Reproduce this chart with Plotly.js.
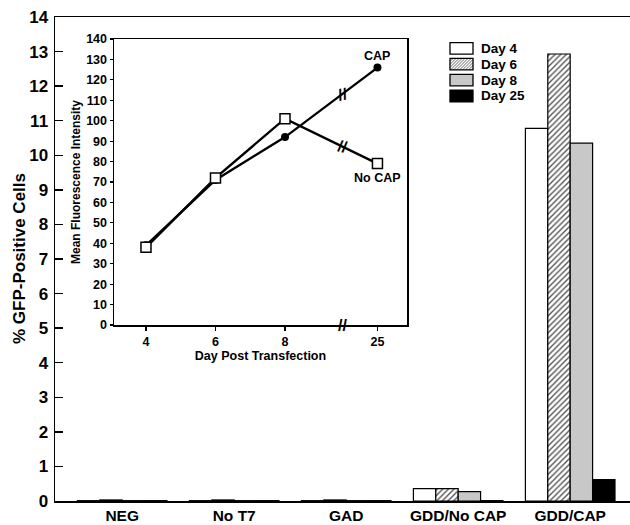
<!DOCTYPE html>
<html>
<head>
<meta charset="utf-8">
<script src="https://cdn.plot.ly/plotly-3.0.1.min.js"></script>
<style>html,body{margin:0;padding:0;background:#fff;}#chart{width:630px;height:525px;}</style>
</head>
<body>
<div id="chart"></div>
<script>
// ---- Main bar chart data (% GFP-positive cells) ----
const categories = ['NEG', 'No T7', 'GAD', 'GDD/No CAP', 'GDD/CAP'];
const day4Values  = [0.01, 0.01, 0.01, 0.36, 10.78];
const day6Values  = [0.03, 0.03, 0.03, 0.36, 12.93];
const day8Values  = [0.01, 0.01, 0.01, 0.27, 10.35];
const day25Values = [0.01, 0.01, 0.01, 0.01, 0.62];
const seriesNames = ['Day 4', 'Day 6', 'Day 8', 'Day 25'];
const mainYTicks = [0,1,2,3,4,5,6,7,8,9,10,11,12,13,14];

// ---- Inset line chart data (mean fluorescence intensity) ----
const insetDays = [4, 6, 8, 25];
const insetTickLabels = ['4', '6', '8', '25'];
const capValues   = [39, 71, 92, 126];
const noCapValues = [38, 72, 101, 79];
const insetYTicks = [0,10,20,30,40,50,60,70,80,90,100,110,120,130,140];

// broken axis: days after 8 are drawn compressed
const BREAK_AFTER = 8, BREAK_GAP_POS = 1.64, POST_BREAK_POS = 2.66;
function dayPos(d) { return d <= BREAK_AFTER ? d : BREAK_AFTER + POST_BREAK_POS; }
const insetPos = insetDays.map(dayPos);
const breakPos = BREAK_AFTER + BREAK_GAP_POS;
function interp(vals) {
  const a = vals[2], b = vals[3];
  return a + (b - a) * (breakPos - insetPos[2]) / (insetPos[3] - insetPos[2]);
}

const FONT = 'Liberation Sans, Arial, Helvetica, sans-serif';
const black = '#000';
const bold = (s) => ({family: FONT, size: s, color: black, weight: 'bold'});

// plot area geometry (pixels)
const W = 630, H = 525, ML = 55, MR = 0, MT = 17, MB = 24;
const PW = W - ML - MR, PH = H - MT - MB;
const px2x = (px) => (px - ML) / PW;
const px2y = (py) => (H - MB - py) / PH;

const fills = ['#ffffff', '#ffffff', '#c8c8c8', '#000000'];
const barStyles = [
  {color: fills[0]},
  {color: fills[1], pattern: {shape: '/', fgcolor: '#555555', bgcolor: '#ffffff', size: 4, solidity: 0.35}},
  {color: fills[2]},
  {color: fills[3]}
];
const barVals = [day4Values, day6Values, day8Values, day25Values];

const traces = barVals.map((vals, i) => ({
  type: 'bar',
  name: seriesNames[i],
  x: categories,
  y: vals,
  xaxis: 'x',
  yaxis: 'y',
  showlegend: false,
  marker: Object.assign({line: {color: black, width: 1.2}}, barStyles[i]),
  hoverinfo: 'y'
}));

traces.push({
  type: 'scatter', mode: 'lines+markers', name: 'CAP',
  x: insetPos, y: capValues, xaxis: 'x2', yaxis: 'y2', showlegend: false,
  line: {color: black, width: 2.3},
  marker: {symbol: 'circle', size: 8, color: black}
});
traces.push({
  type: 'scatter', mode: 'lines+markers', name: 'No CAP',
  x: insetPos, y: noCapValues, xaxis: 'x2', yaxis: 'y2', showlegend: false,
  line: {color: black, width: 2.3},
  marker: {symbol: 'square', size: 10, color: '#fff', line: {color: black, width: 1.5}}
});

// ---- custom legend (wide swatches, tight rows as in the original) ----
const LEG_X0 = 450, LEG_X1 = 473, LEG_Y0 = 48.3, LEG_DY = 15.9, LEG_H = 11.5, LEG_TX = 479;
const shapes = [];
const annotations = [];
seriesNames.forEach((name, i) => {
  const cy = LEG_Y0 + i * LEG_DY;
  const y0 = cy - LEG_H / 2, y1 = cy + LEG_H / 2;
  shapes.push({type: 'rect', xref: 'paper', yref: 'paper',
    x0: px2x(LEG_X0), x1: px2x(LEG_X1), y0: px2y(y1), y1: px2y(y0),
    fillcolor: fills[i], line: {width: 0}});
  if (i === 1) {
    let d = '';
    for (let c = LEG_X0 - LEG_H; c < LEG_X1; c += 3) {
      let sx = c, sy = y1, ex = c + LEG_H, ey = y0;
      if (sx < LEG_X0) { sy = y1 - (LEG_X0 - sx); sx = LEG_X0; }
      if (ex > LEG_X1) { ey = y0 + (ex - LEG_X1); ex = LEG_X1; }
      if (ex <= sx) continue;
      d += `M${px2x(sx)},${px2y(sy)}L${px2x(ex)},${px2y(ey)}`;
    }
    shapes.push({type: 'path', xref: 'paper', yref: 'paper', path: d,
      line: {color: '#555555', width: 0.9}});
  }
  shapes.push({type: 'rect', xref: 'paper', yref: 'paper',
    x0: px2x(LEG_X0), x1: px2x(LEG_X1), y0: px2y(y1), y1: px2y(y0),
    fillcolor: 'rgba(0,0,0,0)', line: {color: black, width: 1.3}});
  annotations.push({xref: 'paper', yref: 'paper', x: px2x(LEG_TX), y: px2y(cy),
    xanchor: 'left', yanchor: 'middle', text: name, showarrow: false, font: bold(13.5)});
});

// main y-axis title
annotations.push({xref: 'paper', yref: 'paper', x: px2x(19), y: 0.5, xanchor: 'center', yanchor: 'middle',
  text: '% GFP-Positive Cells', textangle: -90, showarrow: false, font: bold(17)});

// inset labels and axis-break marks
annotations.push(
  {xref: 'x2', yref: 'y2', x: insetPos[3], y: capValues[3], text: 'CAP', showarrow: false,
   yshift: 12, font: bold(12.5)},
  {xref: 'x2', yref: 'y2', x: insetPos[3], y: noCapValues[3], text: 'No CAP', showarrow: false,
   yshift: -14, font: bold(12.5)},
  {xref: 'x2', yref: 'y2', x: breakPos, y: interp(capValues), text: '//', showarrow: false,
   font: bold(16), textangle: -12},
  {xref: 'x2', yref: 'y2', x: breakPos, y: interp(noCapValues), text: '//', showarrow: false,
   font: bold(16), textangle: 12},
  {xref: 'x2', yref: 'y2', x: breakPos, y: 0, text: '//', showarrow: false, font: bold(16)}
);

const layout = {
  width: W, height: H,
  margin: {l: ML, r: MR, t: MT, b: MB},
  paper_bgcolor: '#fff', plot_bgcolor: 'rgba(0,0,0,0)',
  font: bold(12),
  barmode: 'group', bargap: 0.2, bargroupgap: 0,
  showlegend: false,
  xaxis: {
    type: 'category', range: [-0.6, 4.534], showline: true, linecolor: black, linewidth: 1.5,
    mirror: true, ticks: '', ticklen: 0,
    tickfont: bold(15.5), showgrid: false, zeroline: false, fixedrange: true, automargin: false
  },
  xaxis3: {
    overlaying: 'x', anchor: 'y', type: 'linear', range: [-0.6, 4.534],
    tick0: 0, dtick: 0.2, ticks: 'outside', ticklen: 5, tickwidth: 1.3, tickcolor: black,
    showticklabels: false, showline: false, showgrid: false, zeroline: false
  },
  yaxis: {
    range: [0, 14], tickvals: mainYTicks, ticks: 'inside', ticklen: 8, tickwidth: 1.3,
    tickcolor: black, showline: true, linecolor: black, linewidth: 1.5,
    tickfont: bold(17), ticklabelstandoff: 2, showgrid: false, zeroline: false, automargin: false
  },
  xaxis2: {
    domain: [px2x(114), px2x(407)], anchor: 'y2', range: [3.08, 11.51],
    tickvals: insetPos, ticktext: insetTickLabels, ticks: 'outside', ticklen: 4, tickwidth: 1.2,
    tickcolor: black, showline: true, mirror: true, linecolor: black, linewidth: 1.5,
    tickfont: bold(12.5), showgrid: false, zeroline: false,
    title: {text: 'Day Post Transfection', font: bold(12.5), standoff: 1}
  },
  yaxis2: {
    domain: [px2y(325), px2y(39)], anchor: 'x2', range: [0, 140],
    tickvals: insetYTicks, ticks: 'outside', ticklen: 3, tickwidth: 1.2, tickcolor: black,
    showline: true, mirror: true, linecolor: black, linewidth: 1.5,
    tickfont: bold(12.5), showgrid: false, zeroline: false,
    title: {text: 'Mean Fluorescence Intensity', font: bold(12), standoff: 3}
  },
  shapes: shapes,
  annotations: annotations
};

Plotly.newPlot('chart', traces, layout, {displayModeBar: false, staticPlot: true});
</script>
</body>
</html>
